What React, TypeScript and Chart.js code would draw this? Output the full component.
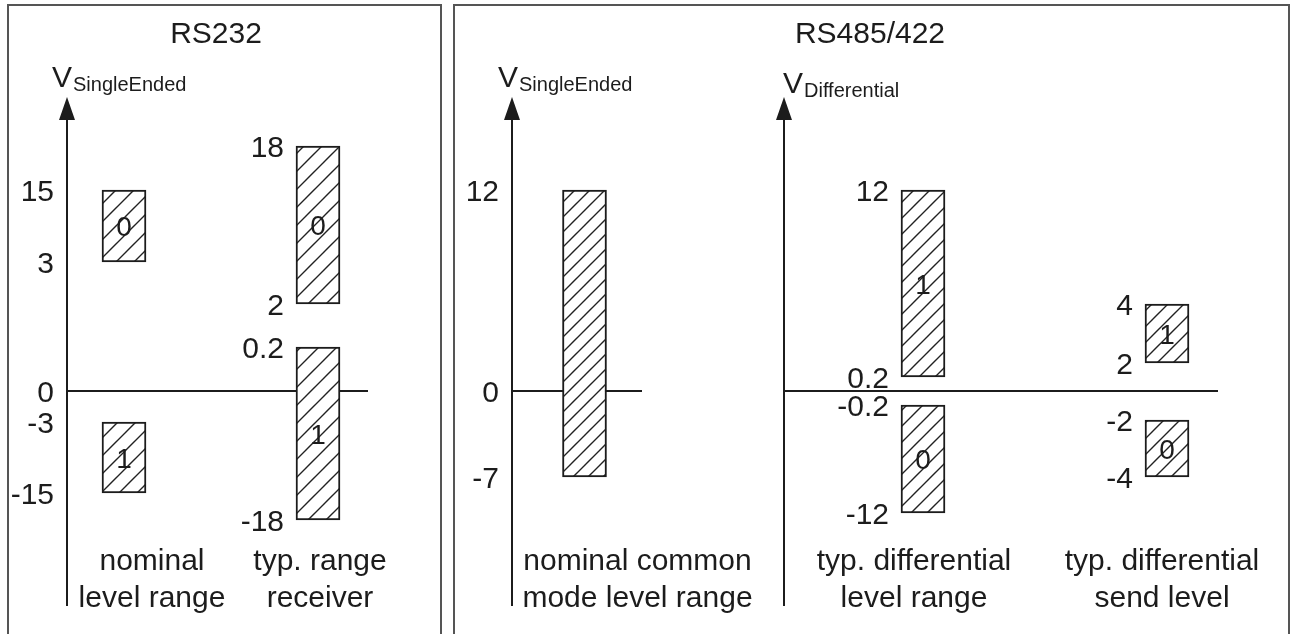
import React, { useEffect, useRef } from 'react';
import { Chart, registerables, LinearScale } from 'chart.js';

Chart.register(...registerables);

// ---------------- data ----------------
const panelTitles = ['RS232', 'RS485/422'];

const rs232Categories = [['nominal', 'level range'], ['typ. range', 'receiver']];
const rs232Logic0 = [[3, 15], [2, 18]];
const rs232Logic1 = [[-15, -3], [-18, 0.2]];
// schematic (non-linear) voltage axis: volts -> drawing level
const rs232AxisVolts = [-18, -15, -3, 0, 0.2, 2, 3, 15, 18];
const rs232AxisLevels = [-129, -102, -31, 0, 44, 87, 129, 201, 245];

const rs485SeCategories = [['nominal common', 'mode level range']];
const rs485SeRange = [[-7, 12]];
const rs485SeAxisVolts = [-7, 0, 12];
const rs485SeAxisLevels = [-86, 0, 201];

const rs485DiffCategories = [['typ. differential', 'level range'], ['typ. differential', 'send level']];
const rs485DiffLogic1 = [[0.2, 12], [2, 4]];
const rs485DiffLogic0 = [[-12, -0.2], [-4, -2]];
const rs485DiffAxisVolts = [-12, -4, -2, -0.2, 0, 0.2, 2, 4, 12];
const rs485DiffAxisLevels = [-122, -86, -29, -14, 0, 14, 28, 87, 201];

// ---------------- styling ----------------
const W = 1290;
const H = 634;
const FONT = '"Liberation Sans", Arial, Helvetica, sans-serif';
const INK = '#1c1c1c';

const ANCHORS: Record<string, { volts: number[]; levels: number[] }> = {
  yRS232: { volts: rs232AxisVolts, levels: rs232AxisLevels },
  yRS485se: { volts: rs485SeAxisVolts, levels: rs485SeAxisLevels },
  yRS485diff: { volts: rs485DiffAxisVolts, levels: rs485DiffAxisLevels },
};

class PiecewiseScale extends LinearScale {
  static id = 'piecewise';
  static defaults = LinearScale.defaults;
  toLevel(v: any): any {
    const a = ANCHORS[(this as any).id];
    if (!a || v === null || v === undefined || isNaN(v)) return v;
    const { volts, levels } = a;
    const n = volts.length;
    let i = 0;
    if (v <= volts[0]) i = 0;
    else if (v >= volts[n - 1]) i = n - 2;
    else {
      while (i < n - 2 && v > volts[i + 1]) i++;
    }
    const t = (v - volts[i]) / (volts[i + 1] - volts[i]);
    return levels[i] + t * (levels[i + 1] - levels[i]);
  }
  getPixelForValue(value: any) {
    return super.getPixelForValue(this.toLevel(value));
  }
}
Chart.register(PiecewiseScale as any);

function makeHatch(spacing: number): CanvasPattern | string {
  const c = document.createElement('canvas');
  c.width = spacing;
  c.height = spacing;
  const g = c.getContext('2d');
  if (!g) return '#fff';
  g.fillStyle = '#fff';
  g.fillRect(0, 0, spacing, spacing);
  g.strokeStyle = '#222';
  g.lineWidth = 1.4;
  g.beginPath();
  g.moveTo(-1, spacing + 1);
  g.lineTo(spacing + 1, -1);
  g.moveTo(-2, 2);
  g.lineTo(2, -2);
  g.moveTo(spacing - 2, spacing + 2);
  g.lineTo(spacing + 2, spacing - 2);
  g.stroke();
  return g.createPattern(c, 'repeat') || '#fff';
}

type Spec = {
  scaleId: string;
  categories: string[][];
  datasets: { data: number[][]; inner?: string }[];
  padLeft: number;
  padRight: number;
  axisX: number;
  zeroEnd: number;
  axisName: { main: string; sub: string; dx: number; baseline: number };
  axisTicks: boolean;
  labelOffsets: number[];
  hatch: number;
  title?: { text: string; x: number };
};

const specs: Spec[] = [
  {
    scaleId: 'yRS232',
    categories: rs232Categories,
    datasets: [
      { data: rs232Logic0, inner: '0' },
      { data: rs232Logic1, inner: '1' },
    ],
    padLeft: 27,
    padRight: W - 415,
    axisX: 67,
    zeroEnd: 368,
    axisName: { main: 'V', sub: 'SingleEnded', dx: -15, baseline: 87 },
    axisTicks: true,
    labelOffsets: [28, 2],
    hatch: 18,
    title: { text: panelTitles[0], x: 216 },
  },
  {
    scaleId: 'yRS485se',
    categories: rs485SeCategories,
    datasets: [{ data: rs485SeRange }],
    padLeft: 540,
    padRight: W - 629,
    axisX: 512,
    zeroEnd: 642,
    axisName: { main: 'V', sub: 'SingleEnded', dx: -14, baseline: 87 },
    axisTicks: true,
    labelOffsets: [53],
    hatch: 15,
  },
  {
    scaleId: 'yRS485diff',
    categories: rs485DiffCategories,
    datasets: [
      { data: rs485DiffLogic1, inner: '1' },
      { data: rs485DiffLogic0, inner: '0' },
    ],
    padLeft: 801,
    padRight: W - 1289,
    axisX: 784,
    zeroEnd: 1218,
    axisName: { main: 'V', sub: 'Differential', dx: -1, baseline: 93 },
    axisTicks: false,
    labelOffsets: [-9, -5],
    hatch: 16,
    title: { text: panelTitles[1], x: 870 },
  },
];

function makePlugin(spec: Spec) {
  return {
    id: 'schematic_' + spec.scaleId,
    beforeDatasetsDraw(chart: any) {
      const ctx = chart.ctx as CanvasRenderingContext2D;
      const ys = chart.scales[spec.scaleId];
      const { top, bottom } = chart.chartArea;
      ctx.save();
      ctx.strokeStyle = INK;
      ctx.fillStyle = INK;
      ctx.lineWidth = 2;
      ctx.beginPath();
      ctx.moveTo(spec.axisX, top + 10);
      ctx.lineTo(spec.axisX, bottom);
      ctx.stroke();
      ctx.beginPath();
      ctx.moveTo(spec.axisX, top);
      ctx.lineTo(spec.axisX - 8, top + 23);
      ctx.lineTo(spec.axisX + 8, top + 23);
      ctx.closePath();
      ctx.fill();
      const y0 = ys.getPixelForValue(0);
      ctx.beginPath();
      ctx.moveTo(spec.axisX, y0);
      ctx.lineTo(spec.zeroEnd, y0);
      ctx.stroke();
      ctx.restore();
    },
    afterDraw(chart: any) {
      const ctx = chart.ctx as CanvasRenderingContext2D;
      const ys = chart.scales[spec.scaleId];
      const xs = chart.scales.x;
      ctx.save();
      ctx.fillStyle = INK;
      ctx.textBaseline = 'alphabetic';

      if (spec.title) {
        ctx.font = `30px ${FONT}`;
        ctx.textAlign = 'center';
        ctx.fillText(spec.title.text, spec.title.x, 43);
      }

      // axis name with subscript
      ctx.textAlign = 'left';
      ctx.font = `30px ${FONT}`;
      const vx = spec.axisX + spec.axisName.dx;
      ctx.fillText(spec.axisName.main, vx, spec.axisName.baseline);
      const vw = ctx.measureText(spec.axisName.main).width;
      ctx.font = `20px ${FONT}`;
      ctx.fillText(spec.axisName.sub, vx + vw + 1, spec.axisName.baseline + 4);

      // value labels
      ctx.font = `30px ${FONT}`;
      ctx.textAlign = 'right';
      const tickY = (v: number) => ys.getPixelForValue(v) + 11;
      const axisLabelX = spec.axisX - 13;
      if (spec.axisTicks) ctx.fillText('0', axisLabelX, tickY(0));
      chart.data.datasets.forEach((ds: any, di: number) => {
        const meta = chart.getDatasetMeta(di);
        meta.data.forEach((el: any, i: number) => {
          const p = el.getProps(['x', 'y', 'base', 'width'], true);
          const [lo, hi] = ds.data[i];
          const xr = spec.axisTicks && i === 0 ? axisLabelX : p.x - p.width / 2 - 12;
          ctx.fillText(String(lo), xr, tickY(lo));
          ctx.fillText(String(hi), xr, tickY(hi));
        });
      });

      // logic level inside bars
      ctx.textAlign = 'center';
      ctx.font = `28px ${FONT}`;
      chart.data.datasets.forEach((ds: any, di: number) => {
        if (!ds.inner) return;
        const meta = chart.getDatasetMeta(di);
        meta.data.forEach((el: any) => {
          const p = el.getProps(['x', 'y', 'base'], true);
          ctx.fillText(ds.inner, p.x, (p.y + p.base) / 2 + 10);
        });
      });

      // category labels
      ctx.font = `30px ${FONT}`;
      (chart.data.labels as string[][]).forEach((lab, i) => {
        const cx = xs.getPixelForValue(i) + (spec.labelOffsets[i] || 0);
        lab.forEach((line, li) => ctx.fillText(line, cx, 570 + li * 37));
      });
      ctx.restore();
    },
  };
}

function buildConfig(spec: Spec): any {
  const pattern = makeHatch(spec.hatch);
  return {
    type: 'bar',
    data: {
      labels: spec.categories,
      datasets: spec.datasets.map((d) => ({
        data: d.data,
        inner: d.inner,
        yAxisID: spec.scaleId,
        backgroundColor: pattern,
        borderColor: INK,
        borderWidth: 2,
        borderSkipped: false,
        barThickness: 44,
        grouped: false,
      })),
    },
    options: {
      responsive: false,
      maintainAspectRatio: false,
      animation: false,
      devicePixelRatio: 1,
      events: [],
      layout: { padding: { left: spec.padLeft, right: spec.padRight, top: 97, bottom: H - 606 } },
      plugins: { legend: { display: false }, tooltip: { enabled: false }, title: { display: false } },
      scales: {
        x: { type: 'category', display: false, offset: true },
        [spec.scaleId]: { type: 'piecewise', axis: 'y', position: 'left', display: false, min: -215, max: 294 },
      },
    },
    plugins: [makePlugin(spec)],
  };
}

function SchematicChart({ spec }: { spec: Spec }) {
  const ref = useRef<HTMLCanvasElement>(null);
  useEffect(() => {
    if (!ref.current) return;
    const chart = new Chart(ref.current, buildConfig(spec));
    return () => chart.destroy();
  }, [spec]);
  return (
    <canvas
      ref={ref}
      width={W}
      height={H}
      style={{ position: 'absolute', left: 0, top: 0, width: W, height: H }}
    />
  );
}

export default function App() {
  const panel: React.CSSProperties = {
    position: 'absolute',
    top: 4,
    height: 720,
    border: '2px solid #555',
    boxSizing: 'border-box',
  };
  return (
    <div
      style={{
        position: 'fixed',
        left: 0,
        top: 0,
        width: W,
        height: H,
        overflow: 'hidden',
        background: '#fff',
      }}
    >
      <div style={{ ...panel, left: 7, width: 435 }} />
      <div style={{ ...panel, left: 453, width: 837 }} />
      {specs.map((s) => (
        <SchematicChart key={s.scaleId} spec={s} />
      ))}
    </div>
  );
}
